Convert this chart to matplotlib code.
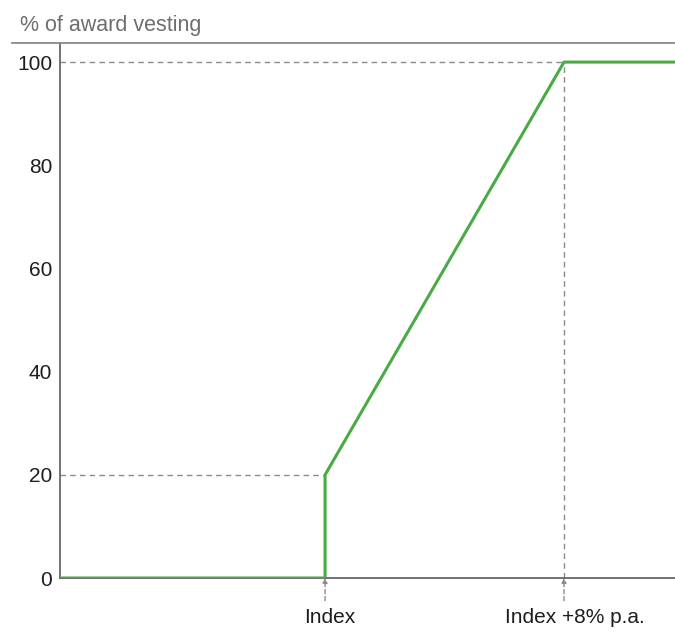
import matplotlib
matplotlib.use('Agg')
import matplotlib.pyplot as plt
from matplotlib.lines import Line2D

plt.rcParams['font.family'] = ['Liberation Sans', 'DejaVu Sans']

# 归属曲线数据
x_points = [0, 4.31, 4.31, 8.195, 10]
y_points = [0, 0, 20, 100, 100]
y_ticks = [0, 20, 40, 60, 80, 100]
idx_x = 4.31
top_x = 8.195
x_labels = ['Index', 'Index +8% p.a.']
label_pos = [4.39, 7.236]
label_ha = ['center', 'left']
title = '% of award vesting'

green = '#4aab45'
grey = '#8a8a8a'
axis_c = '#5a5a5a'

fig = plt.figure(figsize=(6.75, 6.35), dpi=100)
ax = fig.add_axes([60 / 675, 57 / 635, 615 / 675, 535 / 635])

# 辅助虚线
ax.plot([0, idx_x], [20, 20], ls=(0, (4, 3)), color=grey, lw=1)
ax.plot([0, top_x], [100, 100], ls=(0, (4, 3)), color=grey, lw=1)
ax.plot([top_x, top_x], [0, 100], ls=(0, (4, 3)), color=grey, lw=1)

ax.plot(x_points, y_points, color=green, lw=2.2, solid_joinstyle='miter', zorder=5)

ax.set_xlim(0, 10)
ax.set_ylim(0, 103.7)
ax.set_yticks(y_ticks)
ax.set_xticks([])
ax.tick_params(axis='y', length=0, pad=5.5, labelsize=15, labelcolor='#1e1e1e')
for s in ['top', 'right']:
    ax.spines[s].set_visible(False)
for s in ['left', 'bottom']:
    ax.spines[s].set_color(axis_c)
    ax.spines[s].set_linewidth(1.2)

# 轴下方的虚线箭头
for xv in [idx_x, top_x]:
    ax.annotate('', xy=(xv, 0), xytext=(xv, -4.4), annotation_clip=False,
                arrowprops=dict(arrowstyle='-|>', color=grey, lw=1, ls=(0, (3, 2)),
                                mutation_scale=7, shrinkA=0, shrinkB=0))
for lx, lab, ha in zip(label_pos, x_labels, label_ha):
    ax.text(lx, -7.6, lab, ha=ha, va='center', fontsize=15, color='#1e1e1e',
            clip_on=False)

# 顶部横线与标题
fig.add_artist(Line2D([12 / 675, 1], [1 - 43 / 635, 1 - 43 / 635],
                      color='#8a8a8a', lw=1.3))
fig.text(20 / 675, 1 - 25 / 635, title, fontsize=15.5, color='#6e6e6e',
         ha='left', va='center')

fig.savefig('out.png', dpi=100)
